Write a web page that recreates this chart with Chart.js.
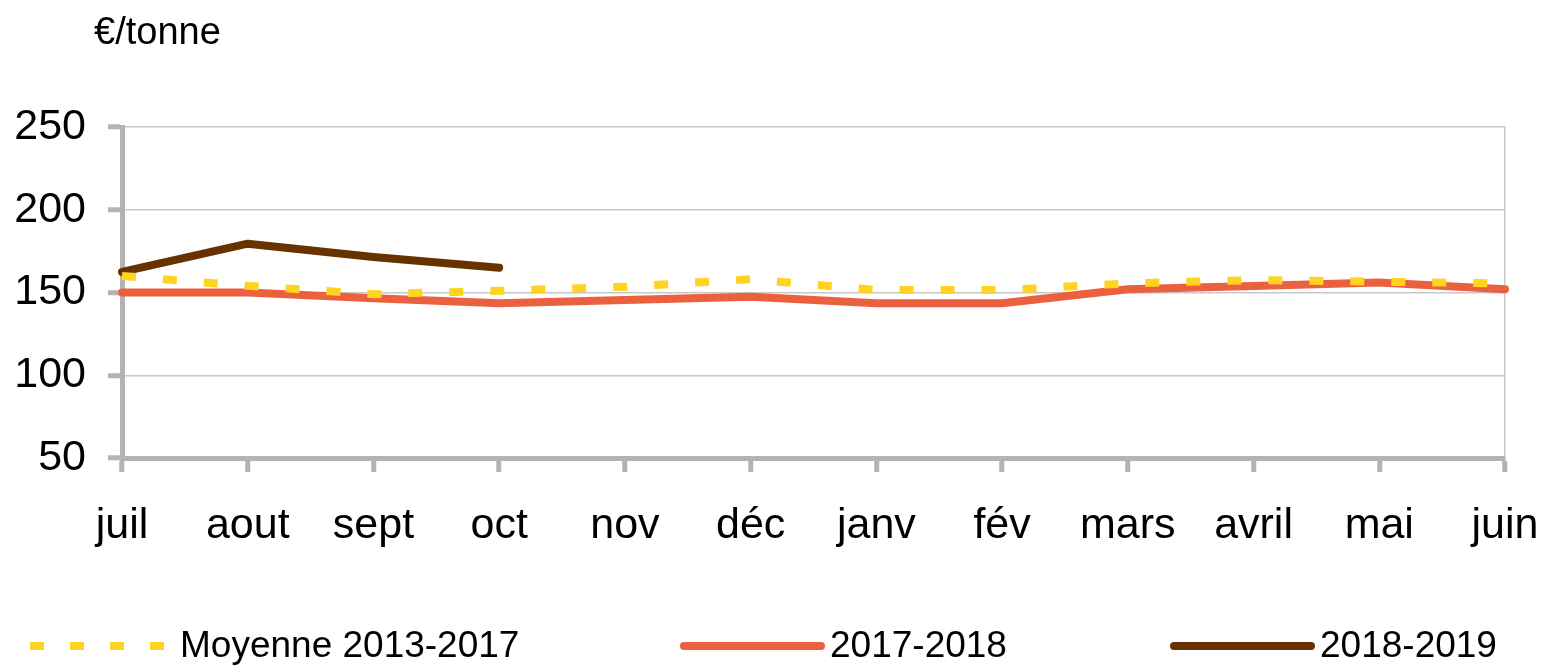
<!DOCTYPE html>
<html>
<head>
<meta charset="utf-8">
<script src="https://cdn.jsdelivr.net/npm/chart.js@4/dist/chart.umd.min.js"></script>
<style>
  html, body { margin: 0; padding: 0; background: #fff; }
  #wrap { width: 1545px; height: 667px; }
</style>
</head>
<body>
<div id="wrap"><canvas id="graficoPrix"></canvas></div>
<script>
const mois = ['juil', 'aout', 'sept', 'oct', 'nov', 'déc', 'janv', 'fév', 'mars', 'avril', 'mai', 'juin'];
const moyenne = [160, 154, 149, 151, 153.5, 158, 151.5, 151.5, 155.5, 157.5, 156.5, 155.5];
const campagne1718 = [150, 150, 146.5, 143.5, 145.5, 147.5, 143.5, 143.5, 152, 154, 156, 152];
const campagne1819 = [162.5, 179.5, 171.5, 165];
const nomsSeries = ['Moyenne 2013-2017', '2017-2018', '2018-2019'];
const couleurs = ['#FFD320', '#EB6140', '#663300'];
const unite = '€/tonne';

const gris = '#B3B3B3';
const police = '"Liberation Sans", Arial, sans-serif';

// titre en haut a gauche + legende en bas dessinés a la main
const decor = {
    id: 'decor',
    afterDraw(chart) {
        const ctx = chart.ctx;
        ctx.save();
        ctx.fillStyle = '#000';
        ctx.font = '38px ' + police;
        ctx.textBaseline = 'alphabetic';
        ctx.fillText(unite, 94, 44);

        const posX = [30, 680, 1170];
        const y = 646;
        chart.data.datasets.forEach((ds, i) => {
            ctx.beginPath();
            ctx.strokeStyle = ds.borderColor;
            ctx.lineWidth = 8;
            if (ds.borderDash.length) {
                ctx.setLineDash([14, 26]);
                ctx.lineCap = 'butt';
                ctx.moveTo(posX[i], y);
                ctx.lineTo(posX[i] + 140, y);
            } else {
                ctx.setLineDash([]);
                ctx.lineCap = 'round';
                ctx.moveTo(posX[i] + 4, y);
                ctx.lineTo(posX[i] + 141, y);
            }
            ctx.stroke();
            ctx.fillStyle = '#000';
            ctx.font = '37px ' + police;
            ctx.textBaseline = 'middle';
            ctx.fillText(nomsSeries[i], posX[i] + 150, y + 1);
        });
        ctx.restore();
    }
};

new Chart(document.getElementById('graficoPrix').getContext('2d'), {
    type: 'line',
    data: {
        labels: mois,
        datasets: [
            { label: nomsSeries[0], data: moyenne, borderColor: couleurs[0], borderWidth: 8, borderDash: [14, 27], borderCapStyle: 'butt' },
            { label: nomsSeries[1], data: campagne1718, borderColor: couleurs[1], borderWidth: 8, borderDash: [], borderCapStyle: 'round' },
            { label: nomsSeries[2], data: campagne1819, borderColor: couleurs[2], borderWidth: 8, borderDash: [], borderCapStyle: 'round' }
        ]
    },
    options: {
        responsive: true,
        maintainAspectRatio: false,
        animation: false,
        elements: { point: { radius: 0 }, line: { tension: 0, borderJoinStyle: 'round' } },
        layout: { padding: { top: 127, right: 40, bottom: 0, left: 0 } },
        plugins: { legend: { display: false }, tooltip: { enabled: false } },
        scales: {
            x: {
                afterFit(s) { s.height = 209; s.paddingRight = 0; s.paddingLeft = 0; },
                border: { color: gris, width: 5 },
                grid: {
                    color: c => c.index === mois.length - 1 ? '#C8C8C8' : 'rgba(0,0,0,0)',
                    lineWidth: 1.5,
                    tickColor: gris,
                    tickWidth: 5,
                    tickLength: 14
                },
                ticks: { color: '#000', font: { family: police, size: 43 }, padding: 28, maxRotation: 0, autoSkip: false }
            },
            y: {
                min: 50,
                max: 250,
                afterFit(s) { s.width = 122; },
                border: { color: gris, width: 5 },
                grid: { color: '#C8C8C8', lineWidth: 1.5, tickColor: gris, tickWidth: 5, tickLength: 14 },
                ticks: { stepSize: 50, color: '#000', font: { family: police, size: 43 }, padding: 22 }
            }
        }
    },
    plugins: [decor]
});
</script>
</body>
</html>
